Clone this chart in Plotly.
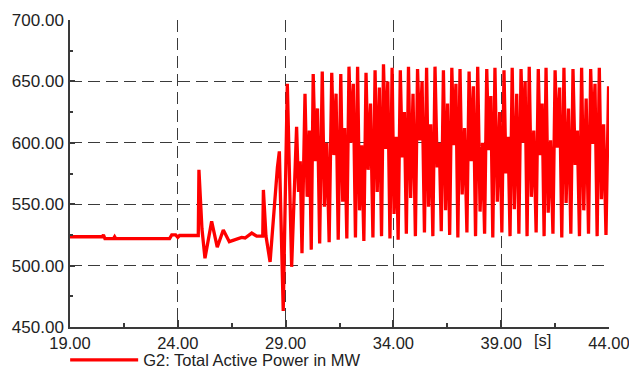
import plotly.graph_objects as go

# ---- data ----
# quiet period and first disturbances (time in s, power in MW)
t_pre = [19.00, 20.50, 20.55, 20.62, 20.70, 21.02, 21.07, 21.12, 23.62, 23.72,
         23.90, 24.00, 24.08, 24.95, 24.98, 25.03, 25.08, 25.12, 25.26, 25.57,
         25.83, 26.11, 26.39, 26.73, 26.96, 27.12, 27.43, 27.66, 27.94, 27.97,
         28.09, 28.28, 28.51, 28.62, 28.71, 28.89]
p_pre = [523.5, 523.5, 525.0, 522.0, 522.0, 522.0, 523.5, 522.0, 522.0, 525.0,
         525.0, 523.0, 524.5, 524.5, 578.0, 560.0, 548.0, 530.0, 506.0, 536.0,
         515.0, 529.0, 519.5, 522.0, 523.0, 522.5, 526.5, 524.0, 524.0, 561.6,
         524.0, 503.0, 556.0, 580.0, 593.0, 463.0]

# sustained oscillation after 29 s (peak, dip, secondary peak, trough per cycle)
t_osc = [29.08, 29.28,
         29.51, 29.60, 29.68, 29.76,
         29.90, 30.00, 30.10, 30.19,
         30.28, 30.38, 30.48, 30.58,
         30.70, 30.80, 30.91, 31.02,
         31.14, 31.24, 31.34, 31.44,
         31.56, 31.65, 31.74, 31.84,
         31.94, 32.04, 32.14, 32.24,
         32.34, 32.43, 32.53, 32.63,
         32.73, 32.83, 32.94, 33.05,
         33.15, 33.25, 33.35, 33.45,
         33.54, 33.64, 33.74, 33.84,
         33.94, 34.03, 34.13, 34.22,
         34.32, 34.41, 34.51, 34.60,
         34.70, 34.80, 34.91, 35.02,
         35.12, 35.22, 35.33, 35.44,
         35.54, 35.63, 35.73, 35.83,
         35.93, 36.03, 36.13, 36.22,
         36.32, 36.42, 36.51, 36.61,
         36.71, 36.80, 36.90, 36.99,
         37.09, 37.19, 37.30, 37.41,
         37.51, 37.61, 37.71, 37.81,
         37.91, 38.02, 38.13, 38.23,
         38.33, 38.42, 38.52, 38.61,
         38.71, 38.82, 38.93, 39.03,
         39.13, 39.22, 39.32, 39.41,
         39.51, 39.61, 39.72, 39.82,
         39.92, 40.01, 40.11, 40.20,
         40.30, 40.40, 40.51, 40.62,
         40.72, 40.81, 40.90, 40.99,
         41.08, 41.18, 41.29, 41.40,
         41.50, 41.60, 41.71, 41.81,
         41.91, 42.01, 42.12, 42.23,
         42.33, 42.43, 42.53, 42.63,
         42.73, 42.83, 42.94, 43.05,
         43.15, 43.25, 43.35, 43.45,
         43.55, 43.65, 43.75, 43.86,
         43.98]
p_osc = [648, 499,
         613, 560, 585, 510,
         640, 556, 610, 513,
         656, 585, 628, 518,
         658, 548, 600, 519,
         657, 590, 640, 521,
         656, 552, 612, 522,
         662, 600, 648, 523,
         662, 545, 598, 520,
         657, 578, 632, 523,
         659, 560, 645, 524,
         664, 595, 650, 522,
         661, 542, 605, 521,
         659, 588, 625, 526,
         662, 555, 640, 524,
         660, 602, 650, 527,
         661, 548, 615, 524,
         662, 580, 600, 528,
         659, 545, 632, 525,
         661, 598, 648, 523,
         660, 558, 612, 527,
         658, 585, 646, 524,
         662, 544, 600, 526,
         660, 594, 638, 523,
         661, 552, 625, 527,
         659, 575, 605, 524,
         661, 546, 640, 526,
         660, 600, 650, 524,
         662, 556, 610, 527,
         660, 590, 632, 524,
         661, 543, 602, 526,
         659, 596, 645, 523,
         661, 551, 628, 526,
         660, 582, 610, 524,
         661, 545, 636, 526,
         660, 599, 648, 524,
         661, 554, 615, 525,
         646]

x_ticks = [19, 24, 29, 34, 39, 44]
x_tick_labels = ["19.00", "24.00", "29.00", "34.00", "39.00", "44.00"]
y_ticks = [450, 500, 550, 600, 650, 700]
y_tick_labels = ["450.00", "500.00", "550.00", "600.00", "650.00", "700.00"]
series_name = "G2: Total Active Power in MW"
x_unit = "[s]"

AX = "#3a3a3a"
TXT = "#222222"
FONT = "Liberation Sans, Arial, sans-serif"

fig = go.Figure()
fig.add_trace(go.Scatter(
    x=t_pre + t_osc, y=p_pre + p_osc, mode="lines", name=series_name,
    line=dict(color="#FF0000", width=3.3),
))

fig.update_layout(
    width=629, height=368,
    margin=dict(l=70, r=20, t=20, b=41, autoexpand=False),
    paper_bgcolor="white", plot_bgcolor="white",
    font=dict(family=FONT, size=17, color=TXT),
    showlegend=True,
    legend=dict(orientation="h", x=-0.009, y=-0.108, xanchor="left",
                yanchor="middle", itemwidth=68, bgcolor="rgba(0,0,0,0)",
                font=dict(family=FONT, size=16.5, color=TXT)),
    annotations=[dict(text=x_unit, xref="paper", yref="paper", x=0.876,
                      y=-0.043, xanchor="center", yanchor="middle",
                      showarrow=False, font=dict(family=FONT, size=16.5, color=TXT))],
)

fig.update_xaxes(
    range=[19, 44], tickmode="array", tickvals=x_ticks, ticktext=x_tick_labels,
    showgrid=True, gridcolor=AX, gridwidth=1.2, griddash="12px,6px",
    showline=True, linecolor=AX, linewidth=1.5, zeroline=False, automargin=False,
    ticks="inside", ticklen=7, tickcolor=AX, tickwidth=1.5, ticklabeloverflow="allow",
    ticklabelstandoff=0,
    tickfont=dict(family=FONT, size=16.5, color=TXT),
    minor=dict(dtick=2.5, tick0=19, ticks="inside", ticklen=4, tickcolor=AX,
               tickwidth=1.5, showgrid=False),
)
fig.update_yaxes(
    range=[450, 700], tickmode="array", tickvals=y_ticks, ticktext=y_tick_labels,
    showgrid=True, gridcolor=AX, gridwidth=1.2, griddash="12px,6px",
    showline=True, linecolor=AX, linewidth=1.5, zeroline=False, automargin=False,
    ticks="inside", ticklen=5, tickcolor=AX, tickwidth=1.5, ticklabelstandoff=1,
    ticklabeloverflow="allow",
    tickfont=dict(family=FONT, size=17, color=TXT),
    minor=dict(dtick=25, tick0=450, ticks="inside", ticklen=3, tickcolor=AX,
               tickwidth=1.5, showgrid=False),
)

fig.write_html("out.html", config={"displayModeBar": False},
               post_script="document.body.style.margin='0px';")
